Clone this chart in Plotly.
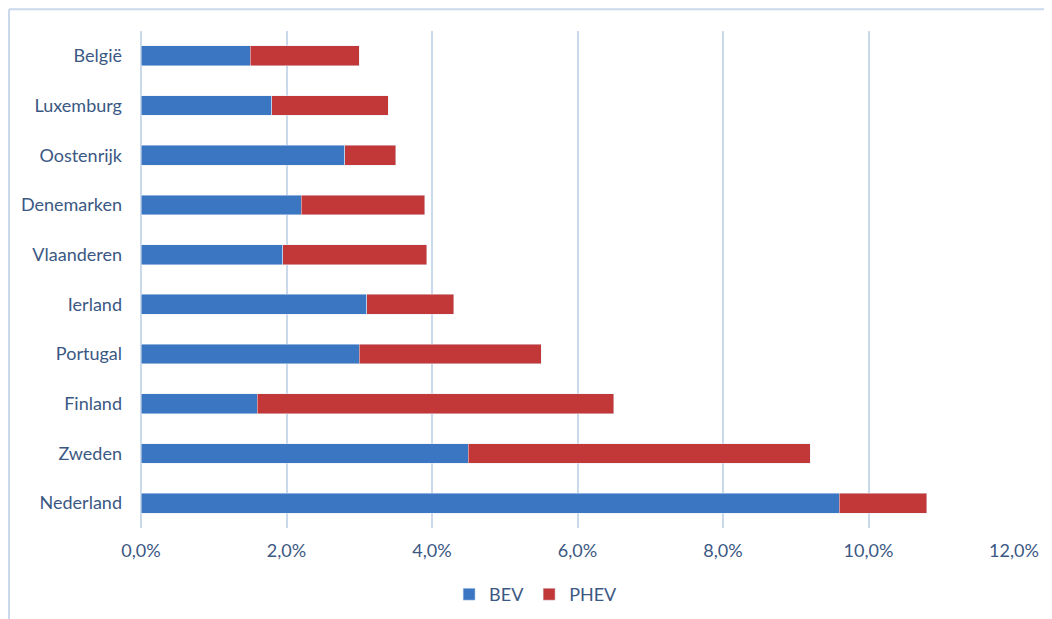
import plotly.graph_objects as go

countries = ["België", "Luxemburg", "Oostenrijk", "Denemarken", "Vlaanderen",
             "Ierland", "Portugal", "Finland", "Zweden", "Nederland"]
bev = [1.5, 1.8, 2.8, 2.2, 1.95, 3.1, 3.0, 1.6, 4.5, 9.6]
phev = [1.5, 1.6, 0.7, 1.7, 1.98, 1.2, 2.5, 4.9, 4.7, 1.2]
tick_vals = [0, 2, 4, 6, 8, 10, 12]
tick_text = ["0,0%", "2,0%", "4,0%", "6,0%", "8,0%", "10,0%", "12,0%"]

font_color = "#3b5883"
grid_color = "#cad9ec"

fig = go.Figure()
fig.add_trace(go.Bar(y=countries, x=bev, name="BEV", orientation="h",
                     marker=dict(color="#3a76c2")))
fig.add_trace(go.Bar(y=countries, x=phev, name="PHEV", orientation="h",
                     marker=dict(color="#c23737")))

fig.update_layout(
    barmode="stack",
    bargap=0.6,
    width=1044, height=611,
    margin=dict(l=133, r=38, t=23, b=91, autoexpand=False),
    paper_bgcolor="white", plot_bgcolor="white",
    font=dict(family="Lato, Open Sans, sans-serif", size=18, color=font_color),
    showlegend=True,
    legend=dict(orientation="h", x=0.452, xanchor="center", y=-0.0966, yanchor="top",
                font=dict(size=18, color=font_color), traceorder="normal",
                itemwidth=30),
    xaxis=dict(range=[0, 12], tickvals=tick_vals, ticktext=tick_text,
               showgrid=True, gridcolor=grid_color, gridwidth=1.5,
               zeroline=True, zerolinecolor=grid_color, zerolinewidth=1.5,
               showline=False, ticks="", ticklabelstandoff=10),
    yaxis=dict(autorange="reversed", showgrid=False, zeroline=False,
               ticks="", ticklabelstandoff=18),
    shapes=[
        dict(type="line", xref="paper", yref="paper", x0=-0.1512, x1=1.06,
             y0=1.044, y1=1.044, line=dict(color=grid_color, width=2)),
        dict(type="line", xref="paper", yref="paper", x0=-0.1512, x1=-0.1512,
             y0=1.044, y1=-0.19, line=dict(color=grid_color, width=2)),
    ],
)

fig.write_html("out.html")
